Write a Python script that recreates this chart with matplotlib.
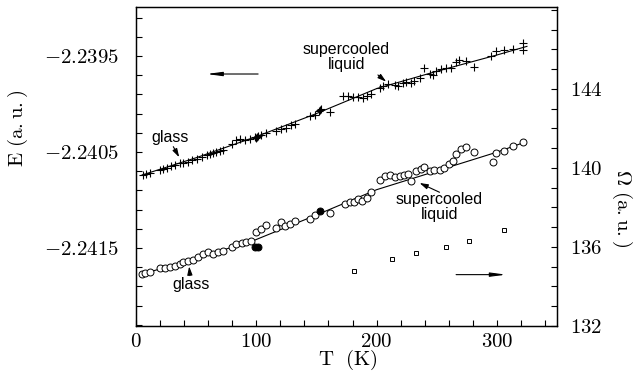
import matplotlib
matplotlib.use("Agg")
import matplotlib.pyplot as plt

plt.rcParams['mathtext.fontset'] = 'cm'
plt.rcParams['font.family'] = ['Liberation Sans', 'DejaVu Sans']

# ---- upper series: crosses, energy E (left axis) ----
T_E = [5.5, 8.3, 11.6, 19.9, 22.7, 26.0, 28.8, 32.4, 36.5, 39.3, 43.4, 46.2,
       50.4, 54.5, 58.7, 61.4, 64.2, 66.9, 69.7, 72.4, 79.4, 83.5, 86.3, 90.4,
       94.6, 98.8, 99.8, 100.6, 101.5, 104.3, 108.4, 116.7, 120.9, 125.0, 129.2,
       132.5, 144.4, 148.5, 151.8, 152.7, 153.5, 161.0, 172.0, 176.2, 180.3,
       184.5, 188.6, 192.0, 195.6, 202.5, 205.3, 209.4, 214.9, 217.7, 221.8,
       224.6, 228.8, 231.5, 235.7, 239.8, 244.0, 246.7, 249.5, 253.7, 257.8,
       262.0, 266.1, 268.9, 274.4, 281.3, 295.2, 299.3, 306.2, 313.1, 321.4,
       321.4]
E = [-2.24074, -2.24073, -2.24072, -2.24069, -2.24068, -2.24067, -2.24065,
     -2.24064, -2.24062, -2.24061, -2.24060, -2.24058, -2.24057, -2.24055,
     -2.24053, -2.24052, -2.24051, -2.24050, -2.24049, -2.24048, -2.24042,
     -2.24038, -2.24037, -2.24038, -2.24037, -2.24034, -2.24035, -2.24034,
     -2.24033, -2.24032, -2.24030, -2.24028, -2.24026, -2.24025, -2.24022,
     -2.24021, -2.24013, -2.24011, -2.24007, -2.24006, -2.24005, -2.24008,
     -2.23992, -2.23992, -2.23993, -2.23993, -2.23994, -2.23992, -2.23990,
     -2.23983, -2.23981, -2.23979, -2.23980, -2.23981, -2.23978, -2.23977,
     -2.23978, -2.23976, -2.23973, -2.23963, -2.23969, -2.23970, -2.23966,
     -2.23964, -2.23963, -2.23963, -2.23956, -2.23954, -2.23955, -2.23961,
     -2.23950, -2.23945, -2.23944, -2.23943, -2.23936, -2.23944]
T_E_fit = [5, 50, 100, 150, 200, 250, 300, 325]
E_fit = [-2.24074, -2.24056, -2.24034, -2.24010, -2.23984, -2.23966,
         -2.23949, -2.23940]

# ---- lower series: circles, Omega (right axis) ----
T_W = [4.7, 7.5, 11.6, 19.9, 24.1, 28.2, 32.4, 36.5, 39.3, 43.4, 47.6, 51.7,
       55.9, 60.0, 64.2, 68.3, 72.4, 79.4, 83.5, 87.7, 91.8, 96.0, 100.1,
       104.3, 108.4, 116.7, 120.9, 123.6, 127.8, 132.5, 144.4, 148.5, 161.0,
       173.4, 177.6, 180.9, 184.5, 188.1, 192.0, 195.6, 202.5, 206.6, 210.8,
       214.9, 219.1, 223.2, 226.0, 228.8, 232.9, 237.0, 239.8, 244.0, 248.1,
       252.3, 256.4, 260.6, 263.3, 266.1, 270.2, 274.4, 281.3, 296.5, 299.3,
       306.2, 313.1, 321.9]
W = [134.63, 134.67, 134.75, 134.92, 134.92, 134.97, 135.02, 135.14, 135.22,
     135.31, 135.36, 135.48, 135.65, 135.73, 135.65, 135.73, 135.81, 135.98,
     136.15, 136.19, 136.27, 136.32, 136.74, 136.91, 137.11, 136.95, 137.25,
     137.08, 137.16, 137.33, 137.42, 137.62, 137.71, 138.18, 138.26, 138.29,
     138.43, 138.34, 138.47, 138.77, 139.40, 139.61, 139.66, 139.53, 139.61,
     139.66, 139.70, 139.36, 139.86, 139.95, 140.03, 139.86, 139.90, 139.91,
     139.98, 140.20, 140.37, 140.71, 140.96, 141.08, 140.83, 140.32, 140.76,
     140.88, 141.13, 141.33]
T_W_filled = [99.0, 101.5, 152.7]
W_filled = [136.02, 136.02, 137.84]
T_W_fit = [4, 97, 100, 150, 200, 250, 300, 323]
W_fit = [134.60, 136.30, 136.38, 137.62, 138.90, 139.85, 140.80, 141.30]

# ---- squares (right axis) ----
T_sq = [180.9, 213.0, 233.0, 257.3, 276.6, 305.6]
W_sq = [134.80, 135.39, 135.70, 135.98, 136.29, 136.86]

fig = plt.figure(figsize=(6.35, 3.72), dpi=100)
ax = fig.add_axes([0.2142, 0.1237, 0.663, 0.8575])
ax2 = ax.twinx()

ax.plot(T_E_fit, E_fit, color='black', lw=0.8)
ax.plot(T_E, E, linestyle='none', marker='+', ms=5.5, mew=0.8, color='black')

ax2.plot(T_W_fit, W_fit, color='black', lw=0.8)
ax2.plot(T_W, W, linestyle='none', marker='o', ms=5, mew=0.7, mfc='white',
         mec='black')
ax2.plot(T_W_filled, W_filled, linestyle='none', marker='o', ms=5, mew=0.7,
         mfc='black', mec='black')
ax2.plot(T_sq, W_sq, linestyle='none', marker='s', ms=3.5, mew=0.7,
         mfc='white', mec='black')

ax.set_xlim(0, 350)
ax.set_ylim(-2.2423125, -2.23899)
ax2.set_ylim(132, 148.15)

tick_font = 15
ax.set_xticks([0, 100, 200, 300], labels=['$0$', '$100$', '$200$', '$300$'],
              fontsize=tick_font)
ax.set_xticks([20 * i for i in range(18)], minor=True)
ax.set_yticks([-2.2415, -2.2405, -2.2395],
              labels=['$-2.2415$', '$-2.2405$', '$-2.2395$'], fontsize=tick_font)
ax.set_yticks([-2.2423 + 0.0002 * i for i in range(17)], minor=True)
ax2.set_yticks([132, 136, 140, 144], labels=['$132$', '$136$', '$140$', '$144$'],
               fontsize=tick_font)
ax2.set_yticks(list(range(132, 149)), minor=True)

ax.tick_params(axis='both', which='both', direction='in', length=4, width=0.8)
ax.tick_params(axis='y', which='major', pad=12)
ax.tick_params(axis='x', which='major', pad=4)
ax2.tick_params(axis='y', which='both', direction='in', length=4, width=0.8,
                pad=9)
for a in (ax, ax2):
    for s in a.spines.values():
        s.set_linewidth(0.9)

ax.set_xlabel(r'$\mathrm{T\ \ (K)}$', fontsize=15, va='center', ha='center')
ax.xaxis.set_label_coords(0.503, -0.108)
ax.set_ylabel(r'$\mathrm{E\ (a{.}u{.})}$', fontsize=15, va='center',
              ha='center')
ax.yaxis.set_label_coords(-0.28, 0.62)
ax2.set_ylabel(r'$\Omega\ \mathrm{(a{.}u{.})}$', fontsize=15, rotation=-90,
               va='center', ha='center')
ax2.yaxis.set_label_coords(1.155, 0.37)

fs = 11.5
arrow = dict(arrowstyle='-|>,head_length=0.5,head_width=0.15', color='black',
             lw=0.8, shrinkA=0, shrinkB=0)
# upper annotations
ax.text(28.2, -2.240354, 'glass', fontsize=fs, ha='center', va='center')
ax.annotate('', xy=(35.9, -2.240555), xytext=(31.0, -2.240445),
            arrowprops=arrow)
ax.text(175.1, -2.23951, 'supercooled\nliquid', fontsize=fs, ha='center',
        va='center', multialignment='center', linespacing=0.95)
ax.annotate('', xy=(208.0, -2.239768), xytext=(201.1, -2.239698),
            arrowprops=arrow)
harrow = dict(arrowstyle='-|>,head_length=0.9,head_width=0.12', color='black',
              lw=0.8, shrinkA=0, shrinkB=0)
ax.annotate('', xy=(58.7, -2.239688), xytext=(101.5, -2.239688),
            arrowprops=harrow)
# lower annotations
ax2.text(46.1, 134.08, 'glass', fontsize=fs, ha='center', va='center')
ax2.annotate('', xy=(44.2, 135.02), xytext=(44.8, 134.55), arrowprops=arrow)
ax2.text(252.3, 138.03, 'supercooled\nliquid', fontsize=fs, ha='center',
         va='center', multialignment='center', linespacing=0.95)
ax2.annotate('', xy=(235.7, 139.24), xytext=(252.3, 138.77), arrowprops=arrow)
ax2.annotate('', xy=(307.6, 134.60), xytext=(266.1, 134.60), arrowprops=harrow)

fig.savefig('out.png', dpi=100)
